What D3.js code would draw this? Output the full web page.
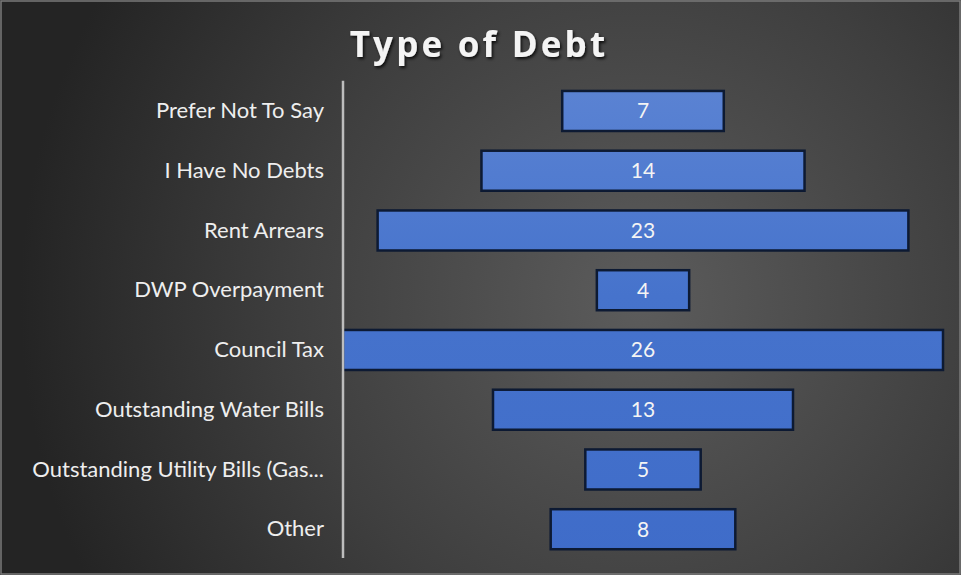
<!DOCTYPE html>
<html>
<head>
<meta charset="utf-8">
<script src="https://cdn.jsdelivr.net/npm/d3@7"></script>
<style>
  html, body { margin: 0; padding: 0; background: #2a2a2a; }
  svg { display: block; }
</style>
</head>
<body>
<script>
// Debt categories, top to bottom, with respondent counts
const categories = [
  "Prefer Not To Say",
  "I Have No Debts",
  "Rent Arrears",
  "DWP Overpayment",
  "Council Tax",
  "Outstanding Water Bills",
  "Outstanding Utility Bills (Gas...",
  "Other"
];
const counts = [7, 14, 23, 4, 26, 13, 5, 8];
const chartTitle = "Type of Debt";

const W = 961, H = 575;
const margin = { top: 80.8, right: 18, bottom: 15.6, left: 343 };

const svg = d3.select("body").append("svg")
  .attr("width", W).attr("height", H);

const defs = svg.append("defs");

// Dark radial backdrop, lighter towards the plot
const bg = defs.append("radialGradient").attr("id", "bg")
  .attr("gradientUnits", "userSpaceOnUse")
  .attr("cx", 640).attr("cy", 300).attr("r", 620);
bg.append("stop").attr("offset", "0%").attr("stop-color", "#5c5c5c");
bg.append("stop").attr("offset", "55%").attr("stop-color", "#3f3f3f");
bg.append("stop").attr("offset", "100%").attr("stop-color", "#242424");

// Bar fill shading from top row to bottom row
const barFill = defs.append("linearGradient").attr("id", "barFill")
  .attr("gradientUnits", "userSpaceOnUse")
  .attr("x1", 0).attr("y1", margin.top).attr("x2", 0).attr("y2", H - margin.bottom);
barFill.append("stop").attr("offset", "0%").attr("stop-color", "#5b83d3");
barFill.append("stop").attr("offset", "45%").attr("stop-color", "#4673cc");
barFill.append("stop").attr("offset", "100%").attr("stop-color", "#3f6cc9");

const shadow = defs.append("filter").attr("id", "titleShadow")
  .attr("x", "-10%").attr("y", "-30%").attr("width", "130%").attr("height", "170%");
shadow.append("feDropShadow").attr("dx", 1.5).attr("dy", 2).attr("stdDeviation", 1.6)
  .attr("flood-color", "#000").attr("flood-opacity", 0.8);

svg.append("rect").attr("width", W).attr("height", H).attr("fill", "url(#bg)");
svg.append("rect").attr("x", 1).attr("y", 1).attr("width", W - 2).attr("height", H - 2)
  .attr("fill", "none").attr("stroke", "#7a7a7a").attr("stroke-width", 1.5);

// Title
svg.append("text")
  .attr("x", 479).attr("y", 57)
  .attr("text-anchor", "middle")
  .attr("font-family", "'Open Sans', Lato, sans-serif")
  .attr("font-weight", "bold")
  .attr("font-size", 35)
  .attr("letter-spacing", 3.2)
  .attr("fill", "#f4f4f4")
  .attr("filter", "url(#titleShadow)")
  .text(chartTitle);

const plotW = W - margin.left - margin.right;
const centerX = margin.left + plotW / 2;

const y = d3.scaleBand()
  .domain(categories)
  .range([margin.top, H - margin.bottom])
  .paddingInner(0.33)
  .paddingOuter(0.17);

const len = d3.scaleLinear()
  .domain([0, d3.max(counts)])
  .range([0, plotW]);

const rows = categories.map((c, i) => ({ cat: c, v: counts[i] }));

// Centered funnel bars
svg.append("g").selectAll("rect")
  .data(rows)
  .join("rect")
  .attr("x", d => centerX - len(d.v) / 2)
  .attr("y", d => y(d.cat))
  .attr("width", d => len(d.v))
  .attr("height", y.bandwidth())
  .attr("fill", "url(#barFill)")
  .attr("stroke", "#0d1a33")
  .attr("stroke-width", 2.5);

// Value labels
svg.append("g").selectAll("text")
  .data(rows)
  .join("text")
  .attr("x", centerX)
  .attr("y", d => y(d.cat) + y.bandwidth() / 2)
  .attr("dy", "0.35em")
  .attr("text-anchor", "middle")
  .attr("font-family", "Lato, 'Open Sans', sans-serif")
  .attr("font-size", 21)
  .attr("fill", "#f4f4f4")
  .text(d => d.v);

// Category axis
const axis = svg.append("g")
  .attr("transform", `translate(${margin.left},0)`)
  .call(d3.axisLeft(y).tickSize(0).tickPadding(19));
axis.select(".domain")
  .attr("stroke", "#bdbdbd").attr("stroke-width", 2.5)
  .attr("d", `M0,${margin.top}V${H - margin.bottom - 1.5}`);
axis.selectAll("text")
  .attr("font-family", "Lato, 'Open Sans', sans-serif")
  .attr("font-size", 22)
  .attr("fill", "#eeeeee");
</script>
</body>
</html>
